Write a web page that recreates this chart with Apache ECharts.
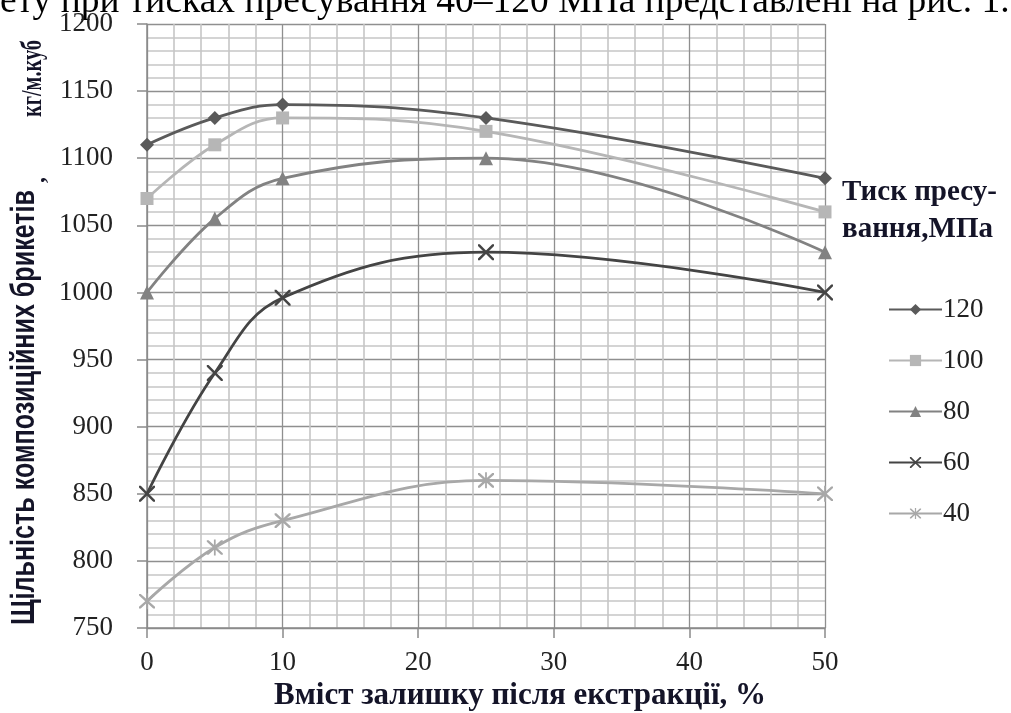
<!DOCTYPE html>
<html>
<head>
<meta charset="utf-8">
<script src="https://cdn.jsdelivr.net/npm/echarts@6/dist/echarts.min.js"></script>
<style>html,body{margin:0;padding:0;background:#fff}#c{width:1011px;height:713px}</style>
</head>
<body>
<div id="c"></div>
<script>
const xValues = [0, 5, 10, 25, 50];
const seriesNames = ['120', '100', '80', '60', '40'];
const s120 = [1110, 1130, 1140, 1130, 1085];
const s100 = [1070, 1110, 1130, 1120, 1060];
const s80  = [1000, 1055, 1085, 1100, 1030];
const s60  = [850, 940, 996, 1030, 1000];
const s40  = [770, 810, 830, 860, 850];
const yTitleMain = 'Щільність композиційних брикетів';
const yTitleComma = ',';
const yTitleUnit = 'кг/м.куб';
const xTitle = 'Вміст залишку після екстракції, %';
const legendTitle = 'Тиск пресу-\nвання,МПа';
const topText = 'ету при тисках пресування 40–120 МПа представлені на рис. 1.';

const X_PATH = 'path://M0,0L1.1,0L5,3.9L8.9,0L10,0L10,1.1L6.1,5L10,8.9L10,10L8.9,10L5,6.1L1.1,10L0,10L0,8.9L3.9,5L0,1.1Z';
const STAR_PATH = 'path://M0,0L1.1,0L5,3.9L8.9,0L10,0L10,1.1L6.1,5L10,8.9L10,10L8.9,10L5,6.1L1.1,10L0,10L0,8.9L3.9,5L0,1.1Z M4.45,-0.5L5.55,-0.5L5.55,10.5L4.45,10.5Z';

const all = [s120, s100, s80, s60, s40];
const colors = ['#5a5a5a', '#b6b6b6', '#828282', '#444444', '#a8a8a8'];
const symbols = ['diamond', 'rect', 'triangle', X_PATH, STAR_PATH];
const sizes = [14, 13, 14, 16, 16];

const serif = '"Liberation Serif", "Times New Roman", serif';
const sans = '"Liberation Sans", Arial, sans-serif';

const mctx = document.createElement('canvas').getContext('2d');
function textW(font, t) { mctx.font = font; return mctx.measureText(t).width; }
const mainFont = 'bold 33px ' + sans;
const unitFont = 'bold 30px ' + serif;
const mainScale = 435 / textW(mainFont, yTitleMain);
const unitScale = 77 / textW(unitFont, yTitleUnit);

const chart = echarts.init(document.getElementById('c'));
chart.setOption({
  animation: false,
  backgroundColor: '#fff',
  grid: { left: 147, right: 186, top: 24, bottom: 85, containLabel: false, outerBoundsMode: 'none' },
  xAxis: {
    type: 'value', min: 0, max: 50, interval: 10,
    axisLine: { show: true, lineStyle: { color: '#8a8a8a', width: 1.5 } },
    axisTick: { show: true, length: 10, lineStyle: { color: '#8a8a8a', width: 1.5 } },
    axisLabel: { margin: 21, fontFamily: serif, fontSize: 27, color: '#222' },
    splitLine: { show: true, lineStyle: { color: '#8f8f8f', width: 1.3 } },
    minorTick: { show: false, splitNumber: 5 },
    minorSplitLine: { show: true, lineStyle: { color: '#c6c6c6', width: 1.6 } },
    name: xTitle, nameLocation: 'middle', nameGap: 52,
    nameTextStyle: { fontFamily: serif, fontWeight: 'bold', fontSize: 31, color: '#141428', padding: [0, 0, 0, 68] }
  },
  yAxis: {
    type: 'value', min: 750, max: 1200, interval: 50,
    axisLine: { show: true, lineStyle: { color: '#8a8a8a', width: 1.5 } },
    axisTick: { show: true, length: 10, lineStyle: { color: '#8a8a8a', width: 1.5 } },
    axisLabel: { margin: 34, fontFamily: serif, fontSize: 27, color: '#222', formatter: v => String(v), padding: [0, 0, 6, 0] },
    splitLine: { show: true, lineStyle: { color: '#8f8f8f', width: 1.3 } },
    minorTick: { show: false, splitNumber: 5 },
    minorSplitLine: { show: true, lineStyle: { color: '#c6c6c6', width: 1.6 } }
  },
  legend: {
    orient: 'vertical', left: 883, top: 291,
    itemWidth: 53, itemHeight: 14, itemGap: 24,
    textStyle: { fontFamily: serif, fontSize: 27, color: '#222', lineHeight: 27, padding: [0, 0, 0, -4] },
    data: seriesNames
  },
  graphic: [
    { type: 'text', left: 0, top: -17, style: { text: topText, font: '37.5px ' + serif, fill: '#000' } },
    { type: 'text', left: 842, top: 174, style: { text: legendTitle, font: 'bold 29px ' + serif, fill: '#141428', lineHeight: 37 } },
    { type: 'text', x: 25, y: 625, rotation: Math.PI / 2, scaleX: mainScale, scaleY: 1,
      style: { text: yTitleMain, font: mainFont, fill: '#141428', align: 'left', verticalAlign: 'middle' } },
    { type: 'text', x: 38, y: 183, rotation: Math.PI / 2, scaleX: 1, scaleY: 1,
      style: { text: yTitleComma, font: 'bold 24px ' + serif, fill: '#141428', align: 'left', verticalAlign: 'middle' } },
    { type: 'text', x: 33, y: 117, rotation: Math.PI / 2, scaleX: unitScale, scaleY: 1,
      style: { text: yTitleUnit, font: unitFont, fill: '#141428', align: 'left', verticalAlign: 'middle' } }
  ],
  series: all.map((vals, i) => ({
    name: seriesNames[i],
    type: 'line',
    smooth: 0.4,
    data: xValues.map((x, j) => [x, vals[j]]),
    symbol: symbols[i],
    symbolSize: sizes[i],
    showSymbol: true,
    lineStyle: { color: colors[i], width: 2.8 },
    itemStyle: { color: colors[i] },
    z: 10 - i
  }))
});
</script>
</body>
</html>
